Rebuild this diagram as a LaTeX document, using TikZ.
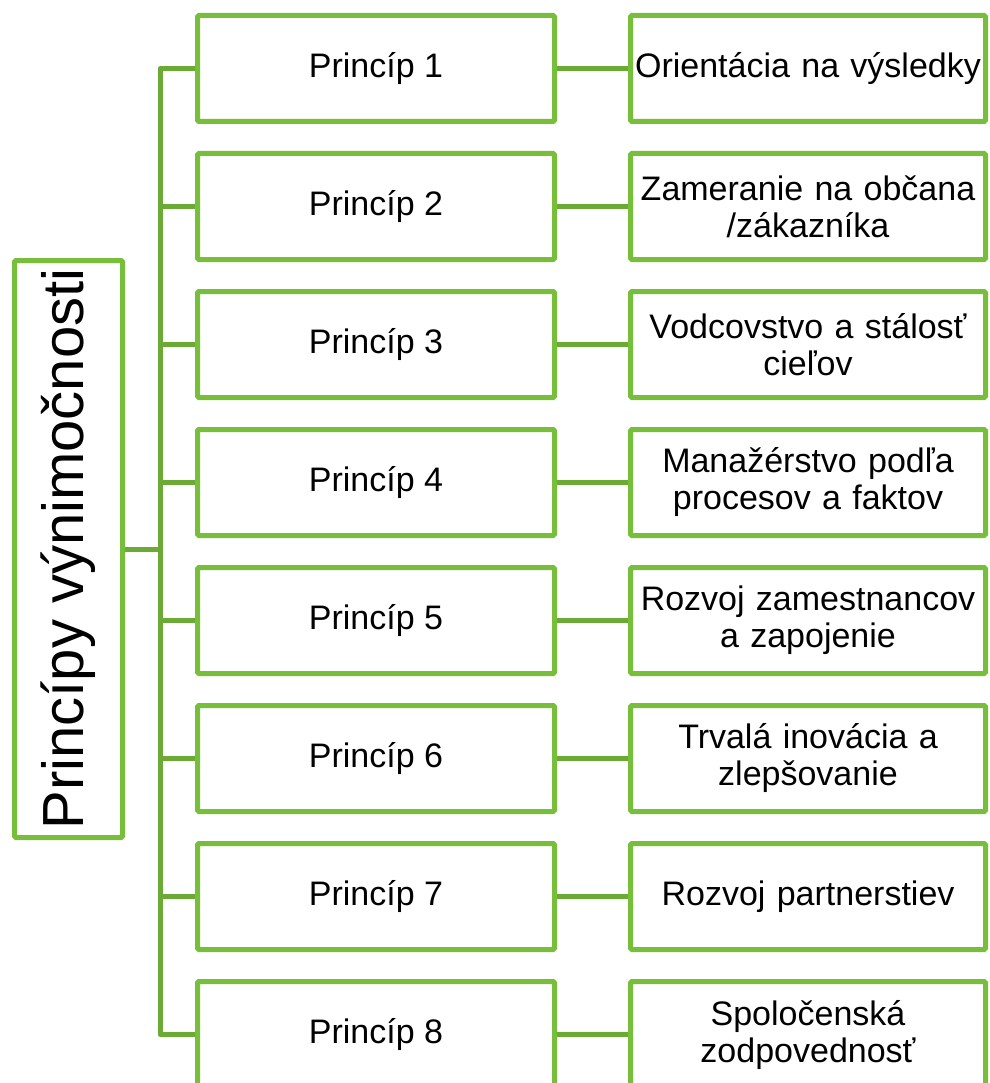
\documentclass[tikz,border=0pt]{standalone}
\usepackage{fontspec}
\setmainfont{Liberation Sans}
\definecolor{boxgreen}{HTML}{77BE3B}
\definecolor{linkgreen}{HTML}{6BAA34}
\begin{document}
\begin{tikzpicture}[x=1pt,y=-1pt,
  box/.style={draw=boxgreen, line width=5pt, rounded corners=1.5pt, fill=white,
    inner sep=0pt, align=center, text=black,
    font=\fontsize{34}{37}\selectfont},
  principle/.style={box, minimum width=357pt, minimum height=106pt},
  topic/.style={box, minimum width=355pt, minimum height=106pt, text width=350pt},
  conn/.style={draw=linkgreen, line width=5pt}]
\clip (0,0) rectangle (989,1083);
\useasboundingbox (0,0) rectangle (989,1083);

% root box with rotated title
\node[box, minimum width=108pt, minimum height=577pt] (root) at (68.5,549) {};
\node[rotate=90, font=\fontsize{58}{60}\selectfont] (title) at (root.center) {Princípy výnimočnosti};

% principle boxes and their topics
\foreach \i/\t in {1/{Orientácia na výsledky},
                   2/{Zameranie na občana\\/zákazníka},
                   3/{Vodcovstvo a stálosť\\cieľov},
                   4/{Manažérstvo podľa\\procesov a faktov},
                   5/{Rozvoj zamestnancov\\a zapojenie},
                   6/{Trvalá inovácia a\\zlepšovanie},
                   7/{Rozvoj partnerstiev},
                   8/{Spoločenská\\zodpovednosť}} {
  \pgfmathsetmacro{\yy}{68.5+138*(\i-1)}
  \node[principle] (p\i) at (376,\yy) {Princíp \i};
  \node[topic] (t\i) at (808,\yy) {\t};
  \draw[conn] (p\i.east) -- (t\i.west);
}

% tree trunk
\coordinate (tr) at (160,0);
\draw[conn] (root.east) -- (root.east -| tr);
\draw[conn, line cap=round] (p1.west -| tr) -- (p8.west -| tr);
\foreach \i in {1,...,8} {
  \draw[conn] (p\i.west -| tr) -- (p\i.west);
}
\end{tikzpicture}
\end{document}
